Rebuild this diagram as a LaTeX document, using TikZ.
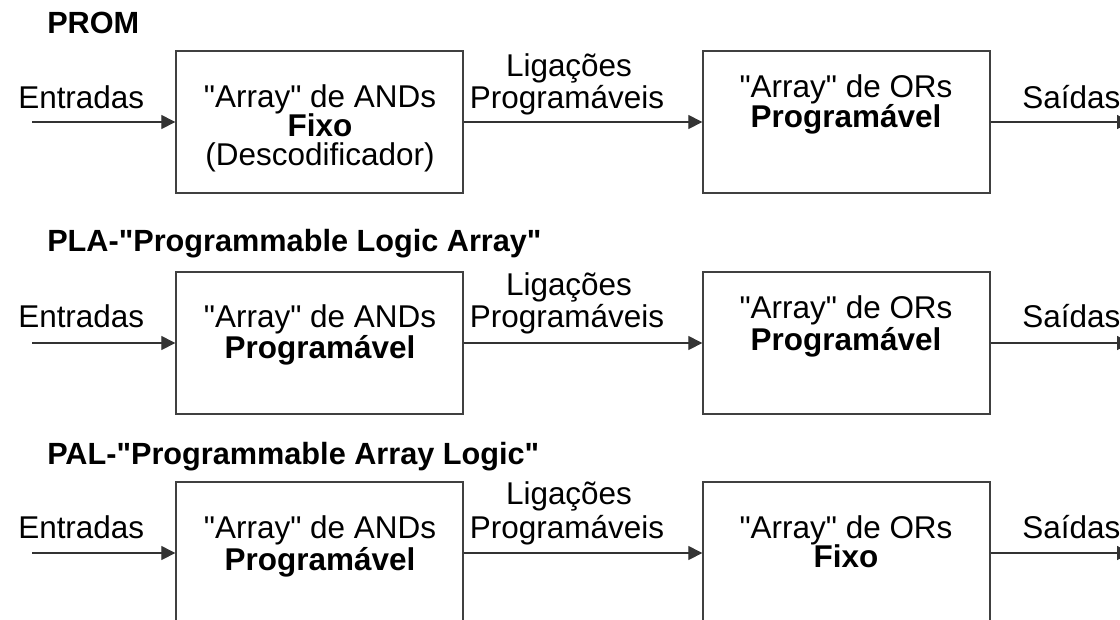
\documentclass[tikz,border=0pt]{standalone}
\usepackage{fontspec}
\setmainfont{Liberation Sans}
\newfontfamily\qfont{Liberation Sans}
\usetikzlibrary{arrows.meta}
\newcommand{\sq}{{\qfont"}}
\tikzset{
  blk/.style={draw=black!75, line width=1pt, minimum width=287*0.75pt, minimum height=142*0.75pt, inner sep=0pt},
  conn/.style={draw=black!80, line width=0.9pt, -{Triangle[length=10.5pt,width=10.5pt]}},
  txt/.style={anchor=base, inner sep=0pt, font=\fontsize{23.6}{28}\selectfont},
  txtl/.style={anchor=base west, inner sep=0pt, font=\fontsize{23.6}{28}\selectfont},
  ttl/.style={anchor=base west, inner sep=0pt, font=\fontsize{23}{28}\selectfont\bfseries},
}
\begin{document}
\begin{tikzpicture}[x=0.75pt,y=-0.75pt]
\useasboundingbox (0,0) rectangle (1120,619);
% ---------- Row 1: PROM ----------
\node[ttl] (t1) at (47,33) {PROM};
\node[blk] (a1) at (319.5,122) {};
\node[blk] (o1) at (846.5,122) {};
\coordinate (in1) at (32,122);
\coordinate (out1) at (1131,122);
\draw[conn] (in1) -- (a1.west);
\draw[conn] (a1.east) -- (o1.west);
\draw[conn] (o1.east) -- (out1);
\node[txtl] (e1) at (18,108) {Entradas};
\node[txt] (a1l1) at (320,107) {\sq Array\sq\ de ANDs};
\node[txt] (a1l2) at (320,136) {\bfseries Fixo};
\node[txt] (a1l3) at (320,165) {(Descodificador)};
\node[txt] (l1a) at (569,76) {Ligações};
\node[txt] (l1b) at (567,108) {Programáveis};
\node[txt] (o1l1) at (846,97) {\sq Array\sq\ de ORs};
\node[txt] (o1l2) at (846,127) {\bfseries Programável};
\node[txtl] (s1) at (1022,108) {Saídas};
% ---------- Row 2: PLA ----------
\node[ttl] (t2) at (47,251) {PLA-\sq Programmable Logic Array\sq};
\node[blk] (a2) at (319.5,343) {};
\node[blk] (o2) at (846.5,343) {};
\coordinate (in2) at (32,343);
\coordinate (out2) at (1131,343);
\draw[conn] (in2) -- (a2.west);
\draw[conn] (a2.east) -- (o2.west);
\draw[conn] (o2.east) -- (out2);
\node[txtl] (e2) at (18,327) {Entradas};
\node[txt] (a2l1) at (320,327) {\sq Array\sq\ de ANDs};
\node[txt] (a2l2) at (320,358) {\bfseries Programável};
\node[txt] (l2a) at (569,295) {Ligações};
\node[txt] (l2b) at (567,327) {Programáveis};
\node[txt] (o2l1) at (846,318) {\sq Array\sq\ de ORs};
\node[txt] (o2l2) at (846,350) {\bfseries Programável};
\node[txtl] (s2) at (1022,327) {Saídas};
% ---------- Row 3: PAL ----------
\node[ttl] (t3) at (47,464) {PAL-\sq Programmable Array Logic\sq};
\node[blk] (a3) at (319.5,553) {};
\node[blk] (o3) at (846.5,553) {};
\coordinate (in3) at (32,553);
\coordinate (out3) at (1131,553);
\draw[conn] (in3) -- (a3.west);
\draw[conn] (a3.east) -- (o3.west);
\draw[conn] (o3.east) -- (out3);
\node[txtl] (e3) at (18,538) {Entradas};
\node[txt] (a3l1) at (320,538) {\sq Array\sq\ de ANDs};
\node[txt] (a3l2) at (320,570) {\bfseries Programável};
\node[txt] (l3a) at (569,504) {Ligações};
\node[txt] (l3b) at (567,538) {Programáveis};
\node[txt] (o3l1) at (846,538) {\sq Array\sq\ de ORs};
\node[txt] (o3l2) at (846,567) {\bfseries Fixo};
\node[txtl] (s3) at (1022,538) {Saídas};
\end{tikzpicture}
\end{document}
